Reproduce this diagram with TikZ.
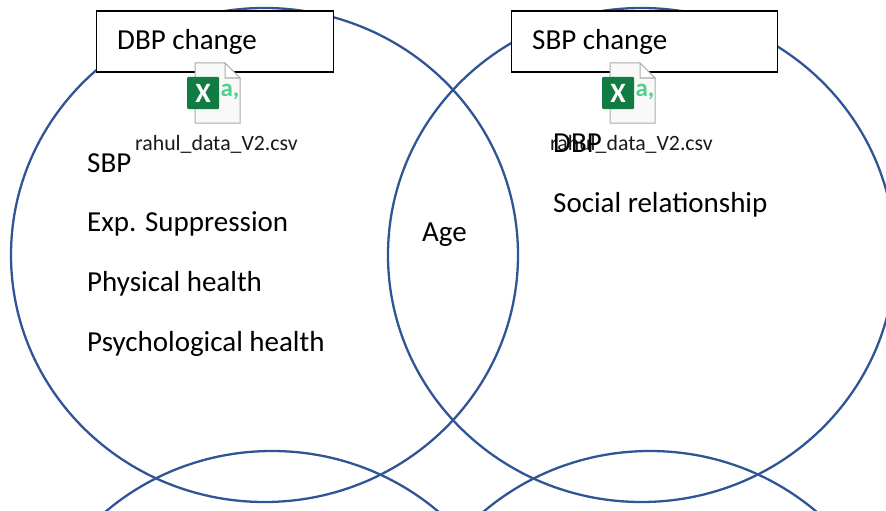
\documentclass[tikz,border=0pt]{standalone}
\usepackage{fontspec}
\setmainfont{Carlito}
\usetikzlibrary{shapes.geometric}
\definecolor{ringblue}{HTML}{2F5597}
\definecolor{xlgreen}{HTML}{107C41}
\definecolor{xllight}{HTML}{4FD08E}
\definecolor{pagegray}{HTML}{F9F9F9}
\definecolor{edgegray}{HTML}{ABABAB}
\tikzset{
  x=1pt,y=-1pt,
  ring/.style={draw=ringblue,line width=2.3pt,ellipse,inner sep=0pt,minimum width=507pt,minimum height=494pt},
  titlebox/.style={draw=black,fill=white,line width=1.9pt,inner sep=0pt,minimum height=61pt,anchor=north west},
  title/.style={font=\fontsize{29}{32}\selectfont,anchor=base west,inner sep=0pt},
  body/.style={font=\fontsize{29}{32}\selectfont,anchor=base west,inner sep=0pt},
  fname/.style={font=\fontsize{21.8}{24}\selectfont,anchor=base west,inner sep=0pt,text=black!90},
  icon/.pic={
    \draw[fill=pagegray,draw=edgegray,line width=1pt] (8,-14) -- (38,-14) -- (53,1) -- (53,46) -- (8,46) -- cycle;
    \draw[fill=white,draw=edgegray,line width=1pt] (38,-14) -- (38,1) -- (53,1) -- cycle;
    \fill[xlgreen,rounded corners=1pt] (0,0) rectangle (32,32);
    \node[text=white,font=\fontsize{28}{28}\selectfont\bfseries,inner sep=0pt] at (16,16) {X};
    \node[text=xllight,font=\fontsize{25}{25}\selectfont\bfseries,inner sep=0pt] at (43,15) {a,};
  }
}
\begin{document}
\begin{tikzpicture}
\useasboundingbox (0,0) rectangle (886,511);
\begin{scope}
\clip (0,0) rectangle (886,511);
\node[ring] (c1) at (264.5,255) {};
\node[ring] (c2) at (641.5,255) {};
\node[ring] (c3) at (272,698) {};
\node[ring] (c4) at (650,698) {};
\end{scope}
\node[titlebox,minimum width=237pt] (b1) at (95.5,10.5) {};
\node[titlebox,minimum width=266pt] (b2) at (510.5,10.5) {};
\node[title] (t1) at (117,49) {DBP change};
\node[title] (t2) at (532,49) {SBP change};
\pic at (187,77) {icon};
\pic at (602,77) {icon};
\node[fname] (f1) at (135,150) {rahul\_data\_V2.csv};
\node[fname] (f2) at (550,150) {rahul\_data\_V2.csv};
\node[body] (l1) at (87,172) {SBP};
\node[body] (l2) at (87,231) {Exp. Suppression};
\node[body] (l3) at (87,291) {Physical health};
\node[body] (l4) at (87,351) {Psychological health};
\node[body] (m1) at (422,241) {Age};
\node[body] (r1) at (553,152) {DBP};
\node[body] (r2) at (553,212) {Social relationship};
\end{tikzpicture}
\end{document}
